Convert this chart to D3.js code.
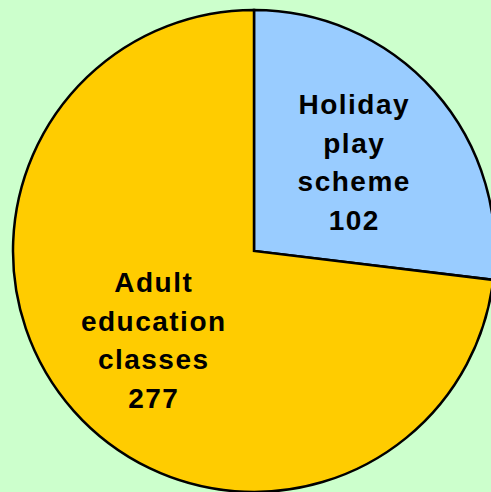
<!DOCTYPE html>
<html>
<head>
<meta charset="utf-8">
<script src="https://cdn.jsdelivr.net/npm/d3@7"></script>
<style>
  html, body { margin: 0; padding: 0; background: #ccffcc; }
  svg { display: block; }
</style>
</head>
<body>
<script>
// pie data
var labels = [["Holiday", "play", "scheme"], ["Adult", "education", "classes"]];
var values = [102, 277];
var colors = ["#99ccff", "#ffcc00"];

var width = 491;
var height = 492;
var cx = 254;
var cy = 251;
var radius = 241;
var lineH = 38.5;

var svg = d3
  .select("body")
  .append("svg")
  .attr("width", width)
  .attr("height", height);

svg
  .append("rect")
  .attr("width", width)
  .attr("height", height)
  .attr("fill", "#ccffcc");

var pie = d3.pie().sort(null).startAngle(0).endAngle(2 * Math.PI);
var arcs = pie(values);

var arc = d3.arc().innerRadius(0).outerRadius(radius);
var labelArc = d3.arc().innerRadius(134).outerRadius(134);

var g = svg.append("g").attr("transform", "translate(" + cx + "," + cy + ")");

g.selectAll("path")
  .data(arcs)
  .enter()
  .append("path")
  .attr("d", arc)
  .attr("fill", function(d, i) { return colors[i]; })
  .attr("stroke", "#000")
  .attr("stroke-width", 2.5)
  .attr("stroke-linejoin", "miter");

// labels: name lines + value, centred on the label arc
arcs.forEach(function(d, i) {
  var c = labelArc.centroid(d);
  var lines = labels[i].concat([String(values[i])]);
  var n = lines.length;
  var firstBase = c[1] - ((n - 1) * lineH) / 2 + 10;
  var t = g
    .append("text")
    .attr("text-anchor", "middle")
    .attr("font-family", "Liberation Sans, Arial, sans-serif")
    .attr("font-weight", "bold")
    .attr("font-size", 28)
    .attr("letter-spacing", 1.5)
    .attr("fill", "#000");
  lines.forEach(function(s, k) {
    t.append("tspan")
      .attr("x", c[0])
      .attr("y", firstBase + k * lineH)
      .text(s);
  });
});
</script>
</body>
</html>
